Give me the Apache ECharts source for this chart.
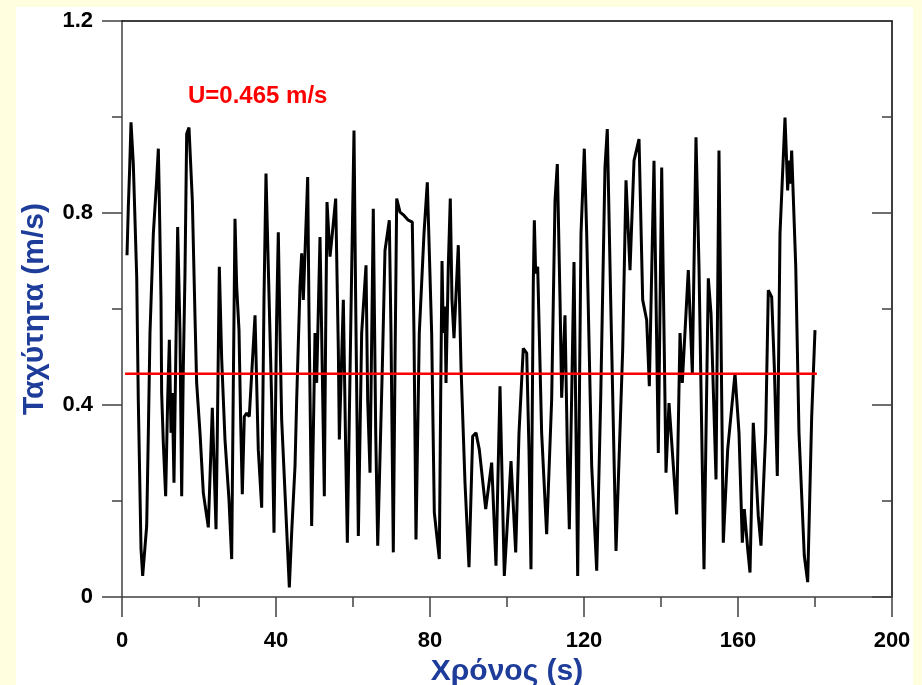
<!DOCTYPE html>
<html><head><meta charset="utf-8">
<script src="https://cdn.jsdelivr.net/npm/echarts@6/dist/echarts.min.js"></script>
<style>html,body{margin:0;padding:0;background:#FFFFE0;} #c{width:922px;height:685px;}</style>
</head><body><div id="c"></div>
<script>
// time (s)
const timeS = [1.30,1.64,2.00,2.34,2.94,3.82,4.23,4.94,5.37,6.41,
6.84,7.27,8.14,9.00,9.44,9.70,10.13,10.30,10.73,11.34,
11.86,12.30,12.73,13.07,13.50,14.46,15.06,15.50,15.93,16.36,
16.80,17.40,18.27,18.96,19.39,20.26,21.12,22.42,23.46,24.42,
24.76,25.28,25.90,26.75,27.79,28.49,28.90,29.35,29.79,30.39,
30.83,31.25,31.77,32.39,33.06,34.55,35.40,36.28,36.88,37.40,
38.00,38.87,39.48,40.17,40.60,41.04,41.47,42.34,43.46,44.07,
44.94,45.37,46.23,46.67,47.10,48.23,48.57,48.83,49.26,49.70,
50.13,50.56,51.43,51.86,52.55,52.90,53.25,54.03,54.63,55.50,
56.19,56.45,57.49,58.10,58.53,59.39,60.26,60.69,61.39,62.25,
63.38,63.81,64.42,65.27,65.90,66.42,67.62,68.31,69.43,69.87,
70.47,70.91,71.35,72.21,73.25,74.36,75.40,75.84,76.36,77.22,
78.44,79.30,80.43,81.12,82.42,82.77,83.12,83.46,83.90,84.16,
84.75,85.27,85.71,86.23,87.35,88.05,89.09,90.13,91.08,91.95,
92.81,94.47,96.02,97.14,98.18,99.30,101.04,102.26,103.12,104.23,
105.12,105.71,106.23,106.83,107.10,107.45,107.97,109.00,110.30,111.60,
112.47,113.07,113.77,114.20,115.06,115.75,116.19,117.40,118.36,119.22,
120.08,120.70,122.00,123.30,124.33,125.45,126.05,126.93,128.31,130.05,
130.91,131.95,132.99,134.29,135.24,136.28,136.97,138.18,139.30,140.18,
141.30,142.08,144.07,144.94,145.53,147.09,148.14,149.09,149.87,151.17,
152.29,152.99,154.29,155.06,156.18,157.32,159.22,160.26,161.12,161.64,
162.52,163.12,163.97,165.27,165.97,167.19,167.87,168.75,169.43,170.21,
170.91,172.21,172.90,173.25,173.60,173.94,175.00,175.84,177.22,178.10,
179.14,180.00];
// speed (m/s)
const speed = [0.712,0.812,0.895,0.989,0.902,0.667,0.411,0.100,0.044,0.148,
0.342,0.550,0.757,0.868,0.934,0.826,0.619,0.425,0.321,0.210,
0.411,0.536,0.342,0.425,0.238,0.771,0.550,0.210,0.480,0.674,
0.965,0.978,0.826,0.584,0.446,0.342,0.217,0.145,0.394,0.141,
0.342,0.688,0.494,0.328,0.203,0.079,0.432,0.788,0.646,0.556,
0.363,0.214,0.376,0.383,0.376,0.587,0.307,0.186,0.619,0.882,
0.688,0.411,0.134,0.584,0.760,0.550,0.370,0.217,0.020,0.134,
0.273,0.411,0.646,0.716,0.619,0.875,0.591,0.425,0.148,0.342,
0.550,0.446,0.750,0.550,0.210,0.550,0.823,0.709,0.757,0.830,
0.515,0.328,0.619,0.307,0.113,0.550,0.972,0.619,0.127,0.550,
0.691,0.411,0.259,0.809,0.342,0.107,0.480,0.722,0.785,0.550,
0.093,0.480,0.830,0.802,0.795,0.785,0.781,0.550,0.120,0.550,
0.757,0.864,0.550,0.176,0.079,0.411,0.700,0.550,0.605,0.446,
0.688,0.830,0.619,0.539,0.733,0.480,0.238,0.062,0.335,0.342,
0.307,0.183,0.280,0.065,0.439,0.044,0.283,0.093,0.342,0.518,
0.508,0.307,0.058,0.653,0.785,0.674,0.688,0.342,0.131,0.411,
0.826,0.902,0.619,0.415,0.587,0.273,0.141,0.698,0.044,0.757,
0.934,0.757,0.273,0.055,0.411,0.895,0.975,0.619,0.096,0.515,
0.868,0.681,0.909,0.954,0.619,0.577,0.439,0.909,0.300,0.895,
0.259,0.404,0.172,0.550,0.446,0.681,0.466,0.958,0.688,0.058,
0.664,0.591,0.245,0.930,0.113,0.307,0.466,0.342,0.113,0.183,
0.100,0.051,0.363,0.169,0.107,0.342,0.639,0.625,0.480,0.252,
0.757,0.999,0.847,0.909,0.861,0.930,0.688,0.342,0.086,0.031,
0.376,0.556];
const meanU = 0.465;
const meanStart = 0.8;
const meanEnd = 180.5;
const xTicks = [0, 40, 80, 120, 160, 200];
const yTicks = [0, 0.4, 0.8, 1.2];
const xTitle = 'Χρόνος (s)';
const yTitle = 'Ταχύτητα (m/s)';
const annot = 'U=0.465 m/s';

const lineData = timeS.map((t, i) => [t, speed[i]]);
const meanData = [[meanStart, meanU], [meanEnd, meanU]];

const chart = echarts.init(document.getElementById('c'), null, {renderer: 'canvas'});
const font = 'Liberation Sans, Arial, sans-serif';
const blue = '#1E3C9A';
const axisCol = '#404040';
chart.setOption({
  backgroundColor: '#FFFFE0',
  animation: false,
  graphic: [
    {type: 'rect', z: -10, shape: {x: 16, y: 7, width: 897, height: 678}, style: {fill: '#FFFFFF'}},
    {type: 'text', left: 188, top: 84, style: {text: annot, fill: '#FF0000', font: 'bold 24px ' + font}}
  ],
  grid: {left: 122, right: 30, top: 21, bottom: 88, show: false, containLabel: false, outerBoundsMode: 'none'},
  xAxis: [{
    type: 'value', min: xTicks[0], max: xTicks[xTicks.length - 1], interval: 40,
    position: 'bottom',
    name: xTitle, nameLocation: 'middle', nameGap: 53,
    nameTextStyle: {color: blue, fontFamily: font, fontWeight: 'bold', fontSize: 30},
    axisLine: {show: true, onZero: false, lineStyle: {color: axisCol, width: 1.5}},
    axisTick: {show: true, inside: false, length: 20, lineStyle: {color: axisCol, width: 1.5}},
    minorTick: {show: true, splitNumber: 2, length: 10, lineStyle: {color: axisCol, width: 1.5}},
    axisLabel: {show: true, margin: 33, color: '#000', fontFamily: font, fontWeight: 'bold', fontSize: 22},
    splitLine: {show: false}
  }, {
    type: 'value', min: xTicks[0], max: xTicks[xTicks.length - 1], interval: 40,
    position: 'top',
    axisLine: {show: true, onZero: false, lineStyle: {color: '#000', width: 1.5}},
    axisTick: {show: false}, axisLabel: {show: false}, splitLine: {show: false}
  }],
  yAxis: [{
    type: 'value', min: yTicks[0], max: yTicks[yTicks.length - 1], interval: 0.4,
    position: 'left',
    name: yTitle, nameLocation: 'middle', nameGap: 72,
    nameTextStyle: {color: blue, fontFamily: font, fontWeight: 'bold', fontSize: 30},
    axisLine: {show: true, onZero: false, lineStyle: {color: axisCol, width: 1.5}},
    axisTick: {show: true, inside: false, length: 20, lineStyle: {color: axisCol, width: 1.5}},
    minorTick: {show: true, splitNumber: 2, length: 10, lineStyle: {color: axisCol, width: 1.5}},
    axisLabel: {show: true, margin: 29, color: '#000', fontFamily: font, fontWeight: 'bold', fontSize: 22,
      formatter: v => (v === 0 ? '0' : v.toFixed(1))},
    splitLine: {show: false}
  }, {
    type: 'value', min: yTicks[0], max: yTicks[yTicks.length - 1], interval: 0.4,
    position: 'right',
    axisLine: {show: true, onZero: false, lineStyle: {color: '#000', width: 1.5}},
    axisTick: {show: true, inside: true, length: 20, lineStyle: {color: axisCol, width: 1.5}},
    minorTick: {show: true, splitNumber: 2, length: 10, lineStyle: {color: axisCol, width: 1.5}},
    axisLabel: {show: false}, splitLine: {show: false}
  }],
  series: [{
    type: 'line', data: lineData, xAxisIndex: 0, yAxisIndex: 0,
    showSymbol: false, symbol: 'none', smooth: false,
    lineStyle: {color: '#000', width: 3}, z: 3
  }, {
    type: 'line', data: meanData, xAxisIndex: 0, yAxisIndex: 0,
    showSymbol: false, symbol: 'none',
    lineStyle: {color: '#FF0000', width: 2.5}, z: 4
  }]
});
</script>
</body></html>
